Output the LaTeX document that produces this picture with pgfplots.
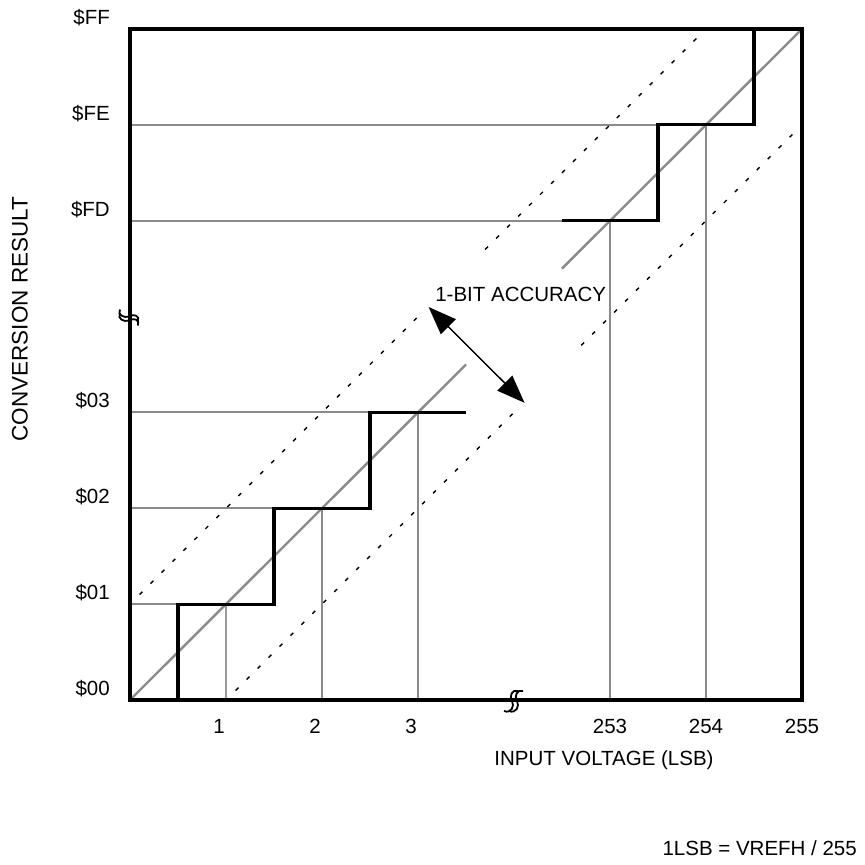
\documentclass[border=0pt]{standalone}
\usepackage{pgfplots}
\pgfplotsset{compat=1.18}
\usepackage{fontspec}
\setmainfont{Liberation Sans}
\usetikzlibrary{arrows.meta}
\definecolor{lgray}{HTML}{8A8A8A}
\definecolor{vgray}{HTML}{9A9A9A}
\newcommand{\fs}{\fontsize{20.5}{24}\selectfont}
\newcommand{\lt}[1]{\makebox[0pt]{#1}\hspace*{14pt}}
\begin{document}
\begin{tikzpicture}
\begin{axis}[name=ax, scale only axis, width=672pt, height=671pt,
  xmin=0, xmax=7, ymin=0, ymax=7, clip=false, axis on top,
  axis line style={line width=3.2pt, black},
  major tick length=0pt,
  xtick={1,2,3,5,6,7}, xticklabels={\lt{1},\lt{2},\lt{3},253,254,255},
  ytick={0,1,2,3,5,6,7}, yticklabels={\$00,\$01,\$02,\$03,\$FD,\$FE,\$FF},
  every tick label/.append style={font=\fs, inner sep=0pt},
  xticklabel style={anchor=base, yshift=-34pt},
  yticklabel style={anchor=base east, xshift=-20pt, yshift=4.5pt},
]
% gray guide lines
\addplot[vgray, line width=2pt] coordinates {(1,0) (1,1)};
\addplot[lgray, line width=2pt] coordinates {(2,0) (2,2)};
\addplot[lgray, line width=2pt] coordinates {(3,0) (3,3)};
\addplot[lgray, line width=2pt] coordinates {(5,0) (5,5)};
\addplot[lgray, line width=2pt] coordinates {(6,0) (6,6)};
\addplot[lgray, line width=2pt] coordinates {(0,1) (1,1)};
\addplot[lgray, line width=2pt] coordinates {(0,2) (2,2)};
\addplot[lgray, line width=2pt] coordinates {(0,3) (3,3)};
\addplot[lgray, line width=2pt] coordinates {(0,5) (4.5,5)};
\addplot[lgray, line width=2pt] coordinates {(0,6) (5.5,6)};
% ideal transfer lines
\addplot[lgray, line width=2.4pt] coordinates {(0,0) (3.5,3.5)};
\addplot[lgray, line width=2.4pt] coordinates {(4.5,4.5) (7,7)};
% accuracy bounds
\addplot[black, line width=1.4pt, dash pattern=on 4pt off 11.5pt] coordinates {(0.1,1.1) (3,4)};
\addplot[black, line width=1.4pt, dash pattern=on 4pt off 11.5pt] coordinates {(3.7,4.7) (6,7)};
\addplot[black, line width=1.4pt, dash pattern=on 4pt off 11.5pt] coordinates {(1.1,0.1) (4,3)};
\addplot[black, line width=1.4pt, dash pattern=on 4pt off 11.5pt] coordinates {(4.7,3.7) (6.9,5.9)};
% staircases
\addplot[black, line width=3.2pt] coordinates {(0,0) (0.5,0) (0.5,1) (1.5,1) (1.5,2) (2.5,2) (2.5,3) (3.5,3)};
\addplot[black, line width=3.2pt] coordinates {(4.5,5) (5.5,5) (5.5,6) (6.5,6) (6.5,7)};
% arrow
\draw[black, line width=1.5pt, {Triangle[length=28pt,width=21pt]}-{Triangle[length=28pt,width=21pt]}] (axis cs:3.11,4.10) -- (axis cs:4.11,3.10);
\node[font=\fs, inner sep=0pt] at (axis cs:4.07,4.23) {1-BIT ACCURACY};
\coordinate (bx) at (axis cs:4,0);
\coordinate (by) at (axis cs:0,3.99);
\end{axis}
% break marks
\begin{scope}[shift={(bx)}, line width=1.8pt]
\draw (-10pt,-11pt) .. controls (-3pt,-14pt) and (1pt,-6pt) .. (-2pt,-1pt) .. controls (-5pt,4pt) and (-2pt,11pt) .. (4pt,9pt);
\draw (-5pt,-11pt) .. controls (2pt,-14pt) and (6pt,-6pt) .. (3pt,-1pt) .. controls (0pt,4pt) and (3pt,11pt) .. (9pt,9pt);
\end{scope}
\begin{scope}[shift={(by)}, rotate=-90, line width=1.8pt]
\draw (-8pt,-10pt) .. controls (-3pt,-13pt) and (1pt,-6pt) .. (-1pt,-1pt) .. controls (-4pt,4pt) and (-2pt,10pt) .. (4pt,8pt);
\draw (-4pt,-10pt) .. controls (1pt,-13pt) and (5pt,-6pt) .. (3pt,-1pt) .. controls (0pt,4pt) and (2pt,10pt) .. (8pt,8pt);
\end{scope}
% labels
\node[font=\fs, inner sep=0pt] at ([shift={(474pt,-60pt)}]ax.south west) {INPUT VOLTAGE (LSB)};
\node[font=\fontsize{22.5}{26}\selectfont, inner sep=0pt, rotate=90] at ([shift={(-110pt,381pt)}]ax.south west) {CONVERSION RESULT};
\node[font=\fs, inner sep=0pt, anchor=east] at ([shift={(727pt,-148pt)}]ax.south west) {1LSB = VREFH / 255};
\pgfresetboundingbox
\path[use as bounding box] ([shift={(-130pt,-165pt)}]ax.south west) rectangle ([shift={(62pt,29pt)}]ax.north east);
\end{tikzpicture}
\end{document}
